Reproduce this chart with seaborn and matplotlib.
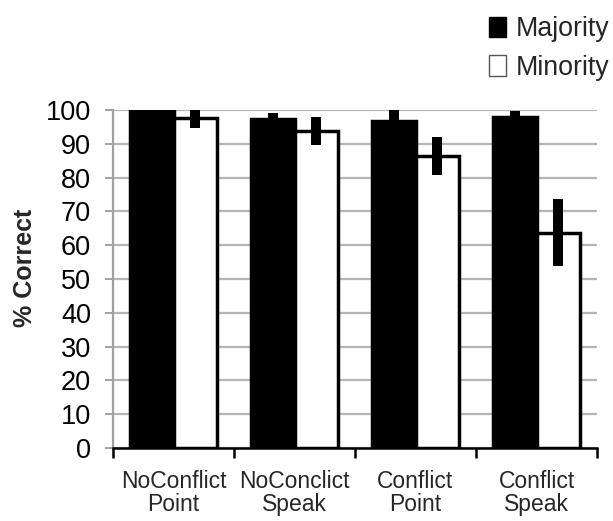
import matplotlib
matplotlib.use("Agg")
import matplotlib.pyplot as plt
import seaborn as sns
import pandas as pd
import numpy as np
from matplotlib.patches import Patch

categories = ["NoConflict\nPoint", "NoConclict\nSpeak", "Conflict\nPoint", "Conflict\nSpeak"]
groups = ["Majority", "Minority"]
majority = [100.0, 97.2, 96.7, 98.0]
minority = [97.5, 93.8, 86.3, 63.7]
majority_err = [0.5, 1.8, 3.3, 1.8]
minority_err = [2.8, 4.2, 5.6, 9.9]

sns.set_theme(style="white")
plt.rcParams["font.family"] = ["Liberation Sans", "DejaVu Sans"]

df = pd.DataFrame({
    "cat": categories * 2,
    "group": [groups[0]] * 4 + [groups[1]] * 4,
    "val": majority + minority,
})

fig = plt.figure(figsize=(6.13, 5.21), dpi=100)
ax = fig.add_axes([113 / 613, 1 - 448 / 521, (597 - 113) / 613, (448 - 110) / 521])

sns.barplot(data=df, x="cat", y="val", hue="group", order=categories,
            hue_order=groups, palette={"Majority": "black", "Minority": "white"},
            errorbar=None, width=0.72, edgecolor="black", linewidth=2.5,
            ax=ax, legend=False, zorder=3)

errs = majority_err + minority_err
vals = majority + minority
bars = [p for p in ax.patches][:8]
for p, v, e in zip(bars, vals, errs):
    cx = p.get_x() + p.get_width() / 2
    ax.errorbar([cx], [v], yerr=[e], fmt="none", ecolor="black",
                elinewidth=7.2, capsize=0, zorder=4, clip_on=True)

ax.set_ylim(0, 100)
ax.set_xlim(-0.5, 3.5)
ax.set_yticks(np.arange(0, 101, 10))
ax.yaxis.grid(True, color="#b5b5b5", linewidth=1.6, zorder=0)
ax.set_axisbelow(True)
ax.tick_params(axis="y", which="major", left=True, length=5.8, width=1.4,
               color="#a0a0a0", labelsize=19.5, pad=10, labelcolor="black")
ax.set_xticks(range(4))
ax.set_xticklabels(categories, fontsize=16.5, linespacing=1.05)
ax.set_xticks(np.arange(-0.5, 4, 1), minor=True)
ax.tick_params(axis="x", which="major", length=0, pad=15.5)
ax.tick_params(axis="x", which="minor", bottom=True, length=7, width=1.8, color="black")

for s in ["top", "right"]:
    ax.spines[s].set_visible(False)
ax.spines["left"].set_color("#a0a0a0")
ax.spines["left"].set_linewidth(1.6)
ax.spines["bottom"].set_color("black")
ax.spines["bottom"].set_linewidth(1.8)

ax.set_xlabel("")
ax.set_ylabel("% Correct", fontsize=18, fontweight="bold")
ax.yaxis.set_label_coords(-0.157, 0.533)

handles = [Patch(facecolor="black", edgecolor="black", label="Majority"),
           Patch(facecolor="white", edgecolor="#555555", label="Minority")]
fig.legend(handles=handles, loc="upper right", bbox_to_anchor=(1.024, 1.005),
           frameon=False, fontsize=19.3, handlelength=0.62, handleheight=0.8,
           handletextpad=0.35, labelspacing=0.48, borderaxespad=0.3)

fig.savefig("out.png", dpi=100)
